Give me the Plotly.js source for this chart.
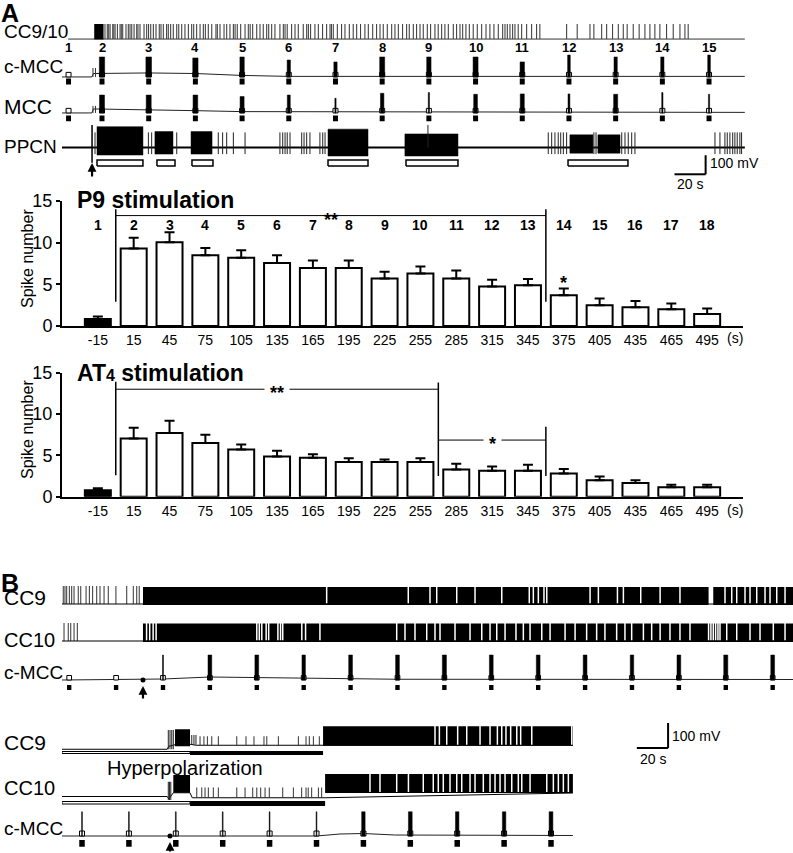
<!DOCTYPE html>
<html>
<head>
<meta charset="utf-8">
<script src="https://cdn.plot.ly/plotly-3.0.1.min.js"></script>
<style>
  html, body { margin: 0; padding: 0; background: #fff; }
  #plot { width: 793px; height: 853px; }
</style>
</head>
<body>
<div id="plot"></div>
<script>
/* Spike counts after P9 / AT4 stimulation, with the recordings above and below */

var FONT = 'Liberation Sans, Arial, sans-serif';
var W = 793, H = 853;

/* ---------- bar charts ---------- */
var timeLabels = ['-15', '15', '45', '75', '105', '135', '165', '195', '225', '255',
                  '285', '315', '345', '375', '405', '435', '465', '495'];
var periodNumbers = ['1', '2', '3', '4', '5', '6', '7', '8', '9', '10',
                     '11', '12', '13', '14', '15', '16', '17', '18'];

var p9Mean = [0.85, 9.3, 10.05, 8.5, 8.2, 7.55, 6.95, 6.95, 5.7, 6.3, 5.7, 4.75, 4.9, 3.7, 2.5, 2.25, 2.0, 1.45];
var p9Sem  = [0.28, 1.3, 1.2, 0.85, 0.9, 0.95, 0.9, 0.9, 0.8, 0.85, 0.95, 0.8, 0.75, 0.8, 0.8, 0.75, 0.7, 0.65];

var at4Mean = [0.77, 7.05, 7.7, 6.5, 5.7, 4.85, 4.7, 4.2, 4.2, 4.2, 3.3, 3.15, 3.15, 2.8, 2.0, 1.65, 1.15, 1.15];
var at4Sem  = [0.24, 1.3, 1.5, 1.0, 0.6, 0.7, 0.45, 0.45, 0.3, 0.45, 0.7, 0.5, 0.7, 0.55, 0.45, 0.35, 0.3, 0.3];

/* ---------- panel A recordings (s, stimulus 2 = 0; mV) ---------- */
var aStimTimes = [-21.5, 0, 30, 60, 90, 120, 150, 180, 210, 240, 270, 300, 330, 360, 390];
var aStimLabels = ['1', '2', '3', '4', '5', '6', '7', '8', '9', '10', '11', '12', '13', '14', '15'];

var aCmccAmp = [0, 105, 105, 100, 105, 89, 79, 105, 105, 105, 79, 115, 105, 105, 115];
var aCmccDur = [0, 3.4, 3.6, 3.4, 2.8, 2.1, 2.1, 3.2, 2.8, 3.2, 2.8, 1.7, 2.1, 2.1, 1.7];
var aMccAmp  = [0, 94, 94, 94, 86, 94, 77, 103, 107, 98, 100, 100, 98, 107, 98];
var aMccDur  = [0, 3.2, 3.2, 3.0, 2.6, 1.9, 0.8, 2.2, 0.8, 2.4, 2.6, 1.2, 2.6, 0.8, 0.8];

var aCmccDriftT = [-25.7, -6.5, -5.5, 30, 60, 90, 120, 413];
var aCmccDriftV = [0, 0, 18, 21, 18, 8, 3, 3];
var aMccDriftT  = [-25.7, -6.5, -5.5, 30, 60, 90, 413];
var aMccDriftV  = [0, 0, 21, 18, 12, 7, 3];
var aTriggerSpikes = [-5.8, -4.2];

var aCcBurst = [[-5, 1]];
var aCcSpikes = [1.9, 3.4, 4.3, 5.2, 6.9, 7.6, 8.4, 9.9, 11.6, 12.4, 13.3, 15.4, 16.9, 18.0, 19.1, 20.6,
  22.3, 23.1, 24.4, 27, 28.7, 29.9, 31.3, 33, 34.7, 36.8, 37.9, 39.4, 41.5, 42.6, 44.1, 45.8, 48, 49.3,
  51.2, 53.3, 55.5, 57.6, 58.9, 60.8, 63, 65.1, 66.4, 68.3, 70.5, 73.2, 74.1, 75.8, 78.4, 80.1, 82.2,
  84.4, 85.5, 86.9, 89.1, 91.9, 94, 95.2, 96.8, 99.4, 101.5, 103.6, 105.8, 107.1, 109, 111.1, 114.3,
  116.5, 117.6, 119, 121.8, 124, 126.1, 129.3, 131.5, 132.6, 134, 136.8, 139, 141.7, 144.3, 146.5,
  147.4, 148.6, 151.2, 153.9, 156.1, 158.9, 161.4, 163.6, 166.1, 168.9, 171.1, 173.9, 176.4, 178.6,
  180.7, 183.3, 186.1, 188.2, 190.4, 193.1, 195.7, 197.4, 200, 202.1, 204.3, 206.4, 209, 211.1, 213.9,
  216, 218.2, 220.3, 222.5, 225.7, 227.8, 230, 231.7, 233.8, 236, 238.5, 241.1, 243.9, 246.7, 249.2,
  251.8, 254.6, 257.4, 258.9, 260.4, 262.1, 263.8, 265.3, 267.4, 269.6, 272.8, 276, 279.2, 281.3,
  298.5, 305.3, 313.5, 316, 321, 324.2, 328, 331.7, 334.9, 337.4, 341.3, 345.1, 348.8, 352, 355.2,
  358.4, 362.7, 367, 371.3, 374.5, 376.6];

var aPpcnBursts = [[-3.2, 26.3], [34.0, 45.6], [57.2, 70.7], [145.2, 170.9], [194.6, 228.7], [300.6, 315.4], [318.6, 332.8]];
var aPpcnBurstTop = [110, 84, 84, 97, 72, 67, 67];
var aPpcnBurstBottom = [-39, -34, -34, -44, -44, -29, -29];
var aPpcnSpikes = [-4.5, 29.8, 31.9, 48, 74.7, 77.5, 80.1, 84.4, 91.9, 114.3, 116.1, 117.6, 119.0, 120.8,
  128.3, 129.8, 131.5, 133.6, 140.0, 141.8, 143.3, 286.7, 288.9, 291.0, 293.1, 294.7, 296.4, 298.5,
  316, 317.4, 333.9, 336, 338.1, 340.3, 342.4, 393.8, 397, 400.2, 401.7, 403.4, 405.2, 406.6, 408.1,
  409.8, 410.9];
var aPpcnTall = [209.4];
var aPpcnArtifact = [-6.4];
var aPpcnStimSpans = [[-3.2, 26.3], [35.3, 46.9], [57.8, 71.3], [145.2, 170.9], [195.3, 228.7], [299.4, 337.9]];

/* ---------- panel B, upper recording (s; mV) ---------- */
var b1Stims = [-60, -30, 0, 30, 60, 90, 120, 150, 180, 210, 240, 270, 300, 330, 360, 390];
var b1CmccAmp = [0, 0, 100, 100, 100, 100, 100, 100, 100, 100, 100, 100, 100, 100, 100, 100];
var b1CmccDur = [0, 0, 0.6, 2.4, 2.4, 2.2, 2.4, 2.4, 2.6, 2.4, 2.4, 2.4, 2.2, 2.4, 2.6, 2.4];
var b1CmccDriftT = [-64.6, 0, 30, 90, 150, 403];
var b1CmccDriftV = [0, 4, 12, 7, 3, 2];
var b1Arrow = -12.8;

var b1Cc9Pre = [-63.8, -62.7, -61.6, -59.9, -58.4, -56.9, -54.2, -52.6, -49.2, -47.1, -45, -42.4,
  -40.3, -37.7, -35, -30.1, -23.2, -19, -16.8, -15.2];
var b1Cc9Bands = [[-12.8, 349], [352, 403]];
var b1Cc9Gaps = [104.7, 156.9, 170.8, 175.1, 187.9, 199.6, 216.7, 234.3, 236.9, 240.1, 243.7, 245.5,
  273.2, 278.5, 290.7, 294.5, 305.6, 318, 330.7, 359.5, 363.8, 367, 372.3, 375.5, 379.8, 385.1,
  388.3, 392.6, 397.9];

var b1Cc10Pre = [-63.3, -60.6, -59, -56.9, -54.8];
var b1Cc10Bands = [[-12.8, 403]];
var b1Cc10Gaps = [-10.5, -8.5, -6.3, -4.4, 60, 61.6, 63.2, 66, 67.6, 73.5, 75.2, 76.6, 88.8, 91.2,
  100.4, 149.5, 154.8, 161.2, 168.7, 174, 177.2, 186.8, 196.4, 203.9, 209.2, 213.5, 218.8, 225.8,
  230.5, 234.8, 242.3, 247.6, 257.2, 263.6, 271, 277.4, 282.7, 290.2, 295.5, 299.8, 307.3, 312.6,
  318, 324.3, 330.7, 337.1, 349, 350.5, 352, 353.5, 355, 356.3, 360.6, 367, 375.5, 381.9, 390.4, 397.9];

/* ---------- panel B, lower recording with hyperpolarization (s; mV) ---------- */
var b2Stims = [0, 30, 60, 90, 120, 150, 180, 210, 240, 270, 300];
var b2CmccAmp = [97, 97, 97, 97, 97, 97, 97, 97, 97, 97, 97];
var b2CmccDur = [0.5, 0.5, 0.5, 0.5, 0.5, 0.5, 2.2, 2.4, 2.2, 2.2, 2.4];
var b2CmccDriftT = [-12.8, 150, 165, 180, 200, 314];
var b2CmccDriftV = [0, 0, 8, 10, 4, 2];
var b2Arrow = 56.3;

var b2Cc9DriftT = [-12.8, 54.5, 55.5, 59.5, 69.1, 73, 154.2, 314];
var b2Cc9DriftV = [0, 0, 12, 18, 20, 16, 16, 16];
var b2Cc9Onset = [55.2, 56.3, 57.4, 58.4];
var b2Cc9After = [70.2, 71.6, 72.9];
var b2Cc9Sparse = [75.5, 78, 80.2, 83, 87.2, 99, 104.9, 110, 116.4, 118.2, 125.6, 138.4, 143.3,
  145.4, 148, 151.8];
var b2Cc9Bands = [[59.5, 69.1], [154.2, 314]];
var b2Cc9BandTop = [80, 92];
var b2Cc9BandBottom = [12, 14];
var b2Cc9Gaps = [225.8, 228.6, 233.3, 240.3, 246.1, 254.6, 261, 265.7, 268.5, 271.2, 274.2, 278.1,
  280.6, 287.7, 313.3];

var b2Cc10DriftT = [-12.8, 54.5, 55.5, 58.4, 69.1, 70.5, 155.5, 314];
var b2Cc10DriftV = [0, 0, -10, 15, 15, -5, -5, 14];
var b2Cc10Onset = [55.2, 56, 56.8];
var b2Cc10Sparse = [73.4, 76.6, 78.7, 80.8, 84, 87.2, 99, 104.3, 109.2, 111.8, 114.3, 117.1, 119.8,
  128.4, 135.2, 140.5, 143.3, 144.7, 146.9, 151.2, 153.3];
var b2Cc10Bands = [[58.4, 69.1], [155.5, 314]];
var b2Cc10BandTop = [86, 90];
var b2Cc10BandBottom = [15, 14];
var b2Cc10Gaps = [184.2, 190.6, 201.3, 208.8, 218.3, 224.7, 227.9, 231.1, 235.4, 239.7, 242.9, 248.2,
  251.4, 256.7, 261, 264.2, 267.4, 270.6, 274.9, 279.1, 281.3, 286.6, 297.3, 301.5, 304.7, 307.9, 311.1];

var b2HyperOff = [[-12.8, 69.1]];
var b2Cc9HyperOn = [[69.1, 154.2]];
var b2Cc10HyperOn = [[69.1, 155.5]];

/* ---------- helpers ---------- */
function px(x) { return x / W; }
function py(y) { return 1 - y / H; }

function vsegs(times, base, lo, hi) {
  var x = [], y = [];
  times.forEach(function (t) { x.push(t, t, null); y.push(base + lo, base + hi, null); });
  return { x: x, y: y };
}
function boxes(spans, base, lo, hi) {
  var x = [], y = [];
  spans.forEach(function (s, i) {
    var l = Array.isArray(lo) ? lo[i] : lo;
    var h = Array.isArray(hi) ? hi[i] : hi;
    x.push(s[0], s[0], s[1], s[1], s[0], null);
    y.push(base + l, base + h, base + h, base + l, base + l, null);
  });
  return { x: x, y: y };
}
function around(times, width) {
  return times.map(function (t) { return [t - width / 2, t + width / 2]; });
}
function burstBars(times, durs, amps, base) {
  var spans = [], tops = [];
  times.forEach(function (t, i) {
    if (durs[i] > 0) { spans.push([t - durs[i] / 2, t + durs[i] / 2]); tops.push(amps[i]); }
  });
  return boxes(spans, base, 0, tops);
}
function drift(ts, vs, base) {
  return { x: ts, y: vs.map(function (v) { return base + v; }) };
}
function flat(t0, t1, base) { return { x: [t0, t1], y: [base, base] }; }

var traces = [];
function addLine(xy, ax, color, width) {
  traces.push({ type: 'scatter', mode: 'lines', x: xy.x, y: xy.y, xaxis: ax[0], yaxis: ax[1],
    line: { color: color, width: width }, connectgaps: false, hoverinfo: 'skip', showlegend: false });
}
function addFill(xy, ax, fill, lineColor, lineWidth) {
  traces.push({ type: 'scatter', mode: 'lines', x: xy.x, y: xy.y, xaxis: ax[0], yaxis: ax[1],
    fill: 'toself', fillcolor: fill, line: { color: lineColor, width: lineWidth },
    connectgaps: false, hoverinfo: 'skip', showlegend: false });
}

var ann = [];
function label(text, x, y, size, o) {
  o = o || {};
  ann.push({
    xref: o.xref || 'paper', yref: o.yref || 'paper',
    x: o.xref ? x : px(x), y: o.yref ? y : py(y),
    text: o.bold ? '<b>' + text + '</b>' : text, showarrow: false,
    xanchor: o.anchor || 'left', yanchor: o.vanchor || 'middle', yshift: o.yshift || 0,
    textangle: o.angle || 0, borderpad: 0,
    bgcolor: o.bg || 'rgba(0,0,0,0)',
    font: { family: FONT, size: size, color: 'black' }
  });
}
function arrow(x, y, xref, yref, len) {
  ann.push({ xref: xref, yref: yref, x: x, y: y, ax: 0, ay: len, text: '', showarrow: true,
    arrowhead: 2, arrowsize: 0.8, arrowwidth: 2.2, arrowcolor: 'black' });
}

var shapes = [];
function segment(xref, yref, x0, y0, x1, y1, w) {
  shapes.push({ type: 'line', xref: xref, yref: yref, x0: x0, y0: y0, x1: x1, y1: y1,
    line: { color: 'black', width: w } });
}

/* ---------- bar charts ---------- */
function barTrace(means, sems, xa, ya) {
  return {
    type: 'bar', x: timeLabels, y: means, xaxis: xa, yaxis: ya,
    marker: { color: means.map(function (v, i) { return i === 0 ? 'black' : 'white'; }),
              line: { color: 'black', width: 2 } },
    error_y: { type: 'data', symmetric: false, array: sems,
               arrayminus: sems.map(function () { return 0; }),
               color: 'black', thickness: 2, width: 5 },
    hoverinfo: 'skip', showlegend: false
  };
}
traces.push(barTrace(p9Mean, p9Sem, 'x', 'y'));
traces.push(barTrace(at4Mean, at4Sem, 'x2', 'y2'));

periodNumbers.forEach(function (n, i) {
  label(n, i, 12.1, 14, { xref: 'x', yref: 'y', anchor: 'center', bold: true });
});

// P9 significance
segment('x', 'y', 0.5, 2.9, 0.5, 14, 1.5);
segment('x', 'y', 0.5, 13.25, 12.5, 13.25, 1);
segment('x', 'y', 12.5, 2.9, 12.5, 14, 1.5);
label('**', 6.5, 13.25, 18, { xref: 'x', yref: 'y', anchor: 'center', bold: true, yshift: -4 });
label('*', 13, 5.6, 18, { xref: 'x', yref: 'y', anchor: 'center', bold: true, yshift: -4 });

// AT4 significance
segment('x2', 'y2', 0.5, 2.6, 0.5, 13.9, 1.5);
segment('x2', 'y2', 0.5, 13.0, 9.5, 13.0, 1);
segment('x2', 'y2', 9.5, 2.5, 9.5, 13.8, 1.5);
segment('x2', 'y2', 9.5, 6.85, 12.5, 6.85, 1);
segment('x2', 'y2', 12.5, 2.5, 12.5, 8.45, 1.5);
label('&nbsp;**&nbsp;', 5, 13.0, 18, { xref: 'x2', yref: 'y2', anchor: 'center', bold: true, bg: 'white', yshift: -4 });
label('&nbsp;*&nbsp;', 11, 6.85, 18, { xref: 'x2', yref: 'y2', anchor: 'center', bold: true, bg: 'white', yshift: -4 });

label('P9 stimulation', 76, 200, 23, { bold: true });
label('AT<span style="font-size:16px">4</span> stimulation', 76, 373, 23, { bold: true });
label('Spike number', 27, 259, 16, { anchor: 'center', angle: -90 });
label('Spike number', 27, 430, 16, { anchor: 'center', angle: -90 });
label('(s)', 735, 338, 14, { anchor: 'center' });
label('(s)', 735, 510, 14, { anchor: 'center' });

/* ---------- panel A ---------- */
var A = ['x3', 'y3'];
var aCc = 740, aCmcc = 541, aMcc = 352, aPpcn = 170;

addLine(flat(-21.8, 413, aCc), A, '#333', 1);
addLine(vsegs(aCcSpikes, aCc, 0, 79), A, '#444', 1.1);
addFill(boxes(aCcBurst, aCc, -2, 79), A, 'black', 'black', 0);

addLine(drift(aCmccDriftT, aCmccDriftV, aCmcc), A, '#222', 1);
addLine(vsegs(aTriggerSpikes, aCmcc, 0, 47), A, '#333', 1);
addFill(boxes(around(aStimTimes, 3.2), aCmcc, 0, 24), A, 'white', 'black', 1);
addFill(burstBars(aStimTimes, aCmccDur, aCmccAmp, aCmcc), A, 'black', 'black', 0.5);
addFill(boxes(around(aStimTimes, 3.2), aCmcc, -39, -8), A, 'black', 'black', 0);

addLine(drift(aMccDriftT, aMccDriftV, aMcc), A, '#222', 1);
addLine(vsegs(aTriggerSpikes, aMcc, 0, 37), A, '#333', 1);
addFill(boxes(around(aStimTimes, 3.2), aMcc, 0, 24), A, 'white', 'black', 1);
addFill(burstBars(aStimTimes, aMccDur, aMccAmp, aMcc), A, 'black', 'black', 0.5);
addFill(boxes(around(aStimTimes, 3.2), aMcc, -44, -13), A, 'black', 'black', 0);

addLine(flat(-25.7, 413, aPpcn), A, 'black', 2);
addFill(boxes(aPpcnBursts, aPpcn, aPpcnBurstBottom, aPpcnBurstTop), A, 'black', 'black', 0.5);
addLine(vsegs(aPpcnSpikes, aPpcn, -34, 80), A, '#222', 1);
addLine(vsegs(aPpcnTall, aPpcn, 0, 119), A, '#222', 1);
addLine(vsegs(aPpcnArtifact, aPpcn, -80, 119), A, 'black', 1.5);
addFill(boxes(aPpcnStimSpans, aPpcn, -96, -65), A, 'white', 'black', 1.5);
arrow(aPpcnArtifact[0], 89, 'x3', 'y3', 15);

aStimTimes.forEach(function (t, i) {
  label(aStimLabels[i], t, 698, 13, { xref: 'x3', yref: 'y3', anchor: 'center', bold: true });
});

// scale bar A
segment('x3', 'y3', 387.8, 30, 387.8, 130, 2);
segment('x3', 'y3', 367.8, 30, 387.8, 30, 2);
label('100 mV', 709, 163, 14);
label('20 s', 676, 184, 14);

label('A', 0, -2, 25, { bold: true, vanchor: 'top' });
label('CC9/10', 3, 32, 19);
label('c-MCC', 3, 67, 19);
label('MCC', 3, 106, 21);
label('PPCN', 3, 146, 19);

/* ---------- panel B, upper ---------- */
var B1 = ['x4', 'y4'];
var b1Cc9 = 404, b1Cc10 = 256, b1Cmcc = 100;

addLine(vsegs(b1Cc9Pre, b1Cc9, 0, 72), B1, '#333', 1);
addFill(boxes(b1Cc9Bands, b1Cc9, -4, 68), B1, 'black', 'black', 0);
addLine(vsegs(b1Cc9Gaps, b1Cc9, 2, 70), B1, 'white', 1.5);
addLine(flat(-64.6, 403, b1Cc9), B1, 'black', 1);

addLine(vsegs(b1Cc10Pre, b1Cc10, 0, 72), B1, '#333', 1);
addFill(boxes(b1Cc10Bands, b1Cc10, -4, 70), B1, 'black', 'black', 0);
addLine(vsegs(b1Cc10Gaps, b1Cc10, 2, 72), B1, 'white', 1.5);
addLine(flat(-64.6, 403, b1Cc10), B1, 'black', 1);

addLine(drift(b1CmccDriftT, b1CmccDriftV, b1Cmcc), B1, '#222', 1);
addFill(boxes(around(b1Stims, 3), b1Cmcc, 0, 18), B1, 'white', 'black', 1);
addFill(burstBars(b1Stims, b1CmccDur, b1CmccAmp, b1Cmcc), B1, 'black', 'black', 0.5);
addFill(boxes(around(b1Stims, 2.8), b1Cmcc, -40, -20), B1, 'black', 'black', 0);
traces.push({ type: 'scatter', mode: 'markers', x: [b1Arrow], y: [b1Cmcc], xaxis: 'x4', yaxis: 'y4',
  marker: { color: 'black', size: 5 }, hoverinfo: 'skip', showlegend: false });
arrow(b1Arrow, 76, 'x4', 'y4', 14);

label('B', 0, 568, 25, { bold: true, vanchor: 'top' });
label('CC9', 3, 597, 21);
label('CC10', 3, 640, 20);
label('c-MCC', 3, 672, 19);

/* ---------- panel B, lower ---------- */
var B2 = ['x5', 'y5'];
var b2Cc9 = 415, b2Cc10 = 226, b2Cmcc = 68;

addLine(drift(b2Cc9DriftT, b2Cc9DriftV, b2Cc9), B2, 'black', 1);
addLine(vsegs(b2Cc9Onset, b2Cc9, 0, 77), B2, '#222', 1);
addLine(vsegs(b2Cc9After, b2Cc9, 18, 57), B2, '#222', 1);
addLine(vsegs(b2Cc9Sparse, b2Cc9, 16, 52), B2, '#333', 1);
addFill(boxes(b2Cc9Bands, b2Cc9, b2Cc9BandBottom, b2Cc9BandTop), B2, 'black', 'black', 0);
addLine(vsegs(b2Cc9Gaps, b2Cc9, 18, 94), B2, 'white', 1.5);
addFill(boxes(b2HyperOff, b2Cc9, -17, -9), B2, 'white', 'black', 1);
addFill(boxes(b2Cc9HyperOn, b2Cc9, -23, -7), B2, 'black', 'black', 0);

addLine(drift(b2Cc10DriftT, b2Cc10DriftV, b2Cc10), B2, 'black', 1);
addLine(vsegs(b2Cc10Onset, b2Cc10, -14, 59), B2, '#222', 1);
addLine(vsegs(b2Cc10Sparse, b2Cc10, -5, 36), B2, '#333', 1);
addFill(boxes(b2Cc10Bands, b2Cc10, b2Cc10BandBottom, b2Cc10BandTop), B2, 'black', 'black', 0);
addLine(vsegs(b2Cc10Gaps, b2Cc10, 18, 92), B2, 'white', 1.5);
addFill(boxes(b2HyperOff, b2Cc10, -30, -20), B2, 'white', 'black', 1);
addFill(boxes(b2Cc10HyperOn, b2Cc10, -38, -18), B2, 'black', 'black', 0);

addLine(drift(b2CmccDriftT, b2CmccDriftV, b2Cmcc), B2, '#222', 1);
addFill(boxes(around(b2Stims, 3.2), b2Cmcc, 0, 20), B2, 'white', 'black', 1);
addFill(burstBars(b2Stims, b2CmccDur, b2CmccAmp, b2Cmcc), B2, 'black', 'black', 0.5);
addFill(boxes(around(b2Stims, 3.5), b2Cmcc, -43, -16), B2, 'black', 'black', 0);
traces.push({ type: 'scatter', mode: 'markers', x: [b2Arrow], y: [b2Cmcc], xaxis: 'x5', yaxis: 'y5',
  marker: { color: 'black', size: 5 }, hoverinfo: 'skip', showlegend: false });
arrow(b2Arrow, 44, 'x5', 'y5', 11);

// scale bar B
segment('x5', 'y5', 374.9, 420, 374.9, 520, 2);
segment('x5', 'y5', 354.9, 420, 374.9, 420, 2);
label('100 mV', 671, 736, 14);
label('20 s', 639, 759, 14);

label('CC9', 3, 742, 21);
label('CC10', 3, 788, 20);
label('c-MCC', 3, 828, 19);
label('Hyperpolarization', 106, 768, 20);

/* ---------- layout ---------- */
function hidden(domain, range, anchor) {
  return { domain: domain, range: range, anchor: anchor, visible: false, fixedrange: true };
}
function barX(anchor) {
  return { domain: [px(62), px(743)], anchor: anchor, type: 'category', range: [-1, 18],
    showline: true, linewidth: 2, linecolor: 'black', ticks: '', showgrid: false, zeroline: false,
    tickfont: { family: FONT, size: 14, color: 'black' }, fixedrange: true };
}
function barY(domain, anchor) {
  return { domain: domain, anchor: anchor, range: [0, 15], tickvals: [0, 5, 10, 15],
    ticks: 'outside', ticklen: 4, tickwidth: 2, tickcolor: 'black',
    showline: true, linewidth: 2, linecolor: 'black', showgrid: false, zeroline: false,
    tickfont: { family: FONT, size: 18, color: 'black' }, fixedrange: true };
}

var layout = {
  width: W, height: H, autosize: false,
  margin: { l: 0, r: 0, t: 0, b: 0 },
  paper_bgcolor: 'white', plot_bgcolor: 'rgba(0,0,0,0)',
  showlegend: false, bargap: 0.275,
  font: { family: FONT, color: 'black' },
  xaxis: barX('y'),
  yaxis: barY([py(326), py(201)], 'x'),
  xaxis2: barX('y2'),
  yaxis2: barY([py(496.7), py(372.7)], 'x2'),
  xaxis3: hidden([px(62), px(745)], [-25.7, 413.1], 'y3'),
  yaxis3: hidden([py(180), py(18)], [0, 850.5], 'x3'),
  xaxis4: hidden([px(62), 1], [-64.6, 403], 'y4'),
  yaxis4: hidden([py(705), py(575)], [0, 520], 'x4'),
  xaxis5: hidden([px(62), 1], [-12.8, 454.8], 'y5'),
  yaxis5: hidden([0, py(712)], [0, 564], 'x5'),
  shapes: shapes,
  annotations: ann
};

Plotly.newPlot('plot', traces, layout, { staticPlot: true, displayModeBar: false });
</script>
</body>
</html>
